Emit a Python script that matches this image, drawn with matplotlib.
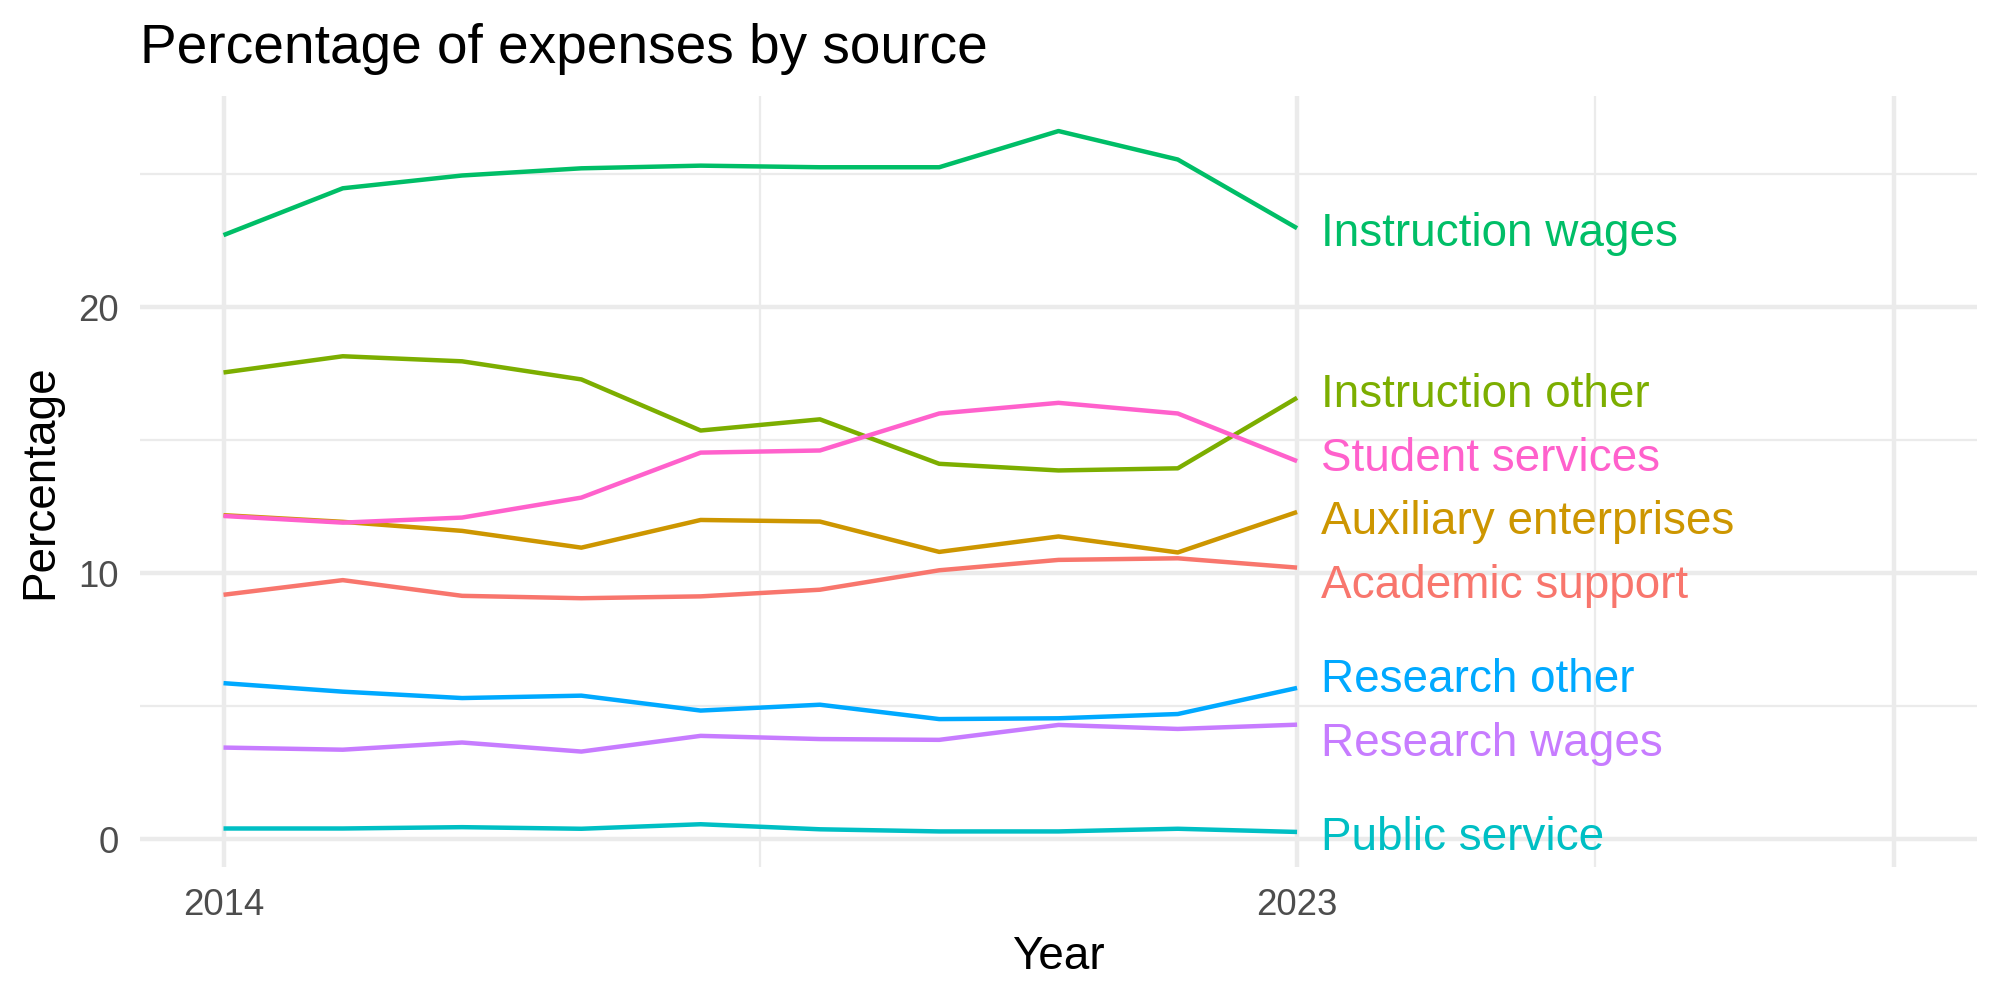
import numpy as np
import matplotlib
matplotlib.use("Agg")
import matplotlib.pyplot as plt

plt.rcParams['font.family'] = ['Liberation Sans', 'DejaVu Sans']

years = list(range(2014, 2024))

categories = ["Academic support", "Auxiliary enterprises", "Instruction other",
              "Instruction wages", "Public service", "Research other",
              "Research wages", "Student services"]

academic_support = [9.19, 9.74, 9.15, 9.06, 9.13, 9.38, 10.11, 10.50, 10.56, 10.21]
auxiliary_enterprises = [12.18, 11.93, 11.59, 10.96, 12.00, 11.94, 10.80, 11.38, 10.78, 12.30]
instruction_other = [17.54, 18.15, 17.96, 17.28, 15.36, 15.78, 14.11, 13.86, 13.94, 16.59]
instruction_wages = [22.70, 24.46, 24.94, 25.21, 25.31, 25.25, 25.25, 26.61, 25.54, 22.96]
public_service = [0.41, 0.41, 0.46, 0.40, 0.57, 0.38, 0.30, 0.30, 0.40, 0.28]
research_other = [5.87, 5.55, 5.31, 5.40, 4.84, 5.06, 4.52, 4.55, 4.71, 5.69]
research_wages = [3.45, 3.37, 3.64, 3.30, 3.89, 3.77, 3.74, 4.30, 4.15, 4.31]
student_services = [12.15, 11.90, 12.09, 12.84, 14.53, 14.61, 16.00, 16.40, 16.00, 14.21]

series = [academic_support, auxiliary_enterprises, instruction_other,
          instruction_wages, public_service, research_other,
          research_wages, student_services]

# ggplot default hue palette for 8 groups
colors = ["#F8766D", "#CD9600", "#7CAE00", "#00BE67",
          "#00BFC4", "#00A9FF", "#C77CFF", "#FF61CC"]


def spread_labels(targets, gap):
    # push end labels apart (simple cluster based repel)
    targets = np.asarray(targets, dtype=float)
    clusters = [[i] for i in np.argsort(targets)]

    def place(c):
        m = targets[c].mean()
        n = len(c)
        return [m + (k - (n - 1) / 2) * gap for k in range(n)]

    merged = True
    while merged:
        merged = False
        for j in range(len(clusters) - 1):
            lo = place(clusters[j])[-1]
            hi = place(clusters[j + 1])[0]
            if hi - lo < gap - 1e-9:
                clusters[j] = clusters[j] + clusters[j + 1]
                del clusters[j + 1]
                merged = True
                break
    pos = np.zeros(len(targets))
    for c in clusters:
        for i, p in zip(c, place(c)):
            pos[i] = p
    return pos


fig = plt.figure(figsize=(20 / 3, 10 / 3), dpi=300)
ax = fig.add_axes([0.070, 0.133, 0.9185, 0.771])

grid_col = "#EBEBEB"
for x in [2018.5, 2025.5]:
    ax.axvline(x, color=grid_col, lw=0.53, zorder=0)
for y in [5, 15, 25]:
    ax.axhline(y, color=grid_col, lw=0.53, zorder=0)
for x in [2014, 2023, 2028]:
    ax.axvline(x, color=grid_col, lw=1.07, zorder=0)
for y in [0, 10, 20]:
    ax.axhline(y, color=grid_col, lw=1.07, zorder=0)

for name, vals, col in zip(categories, series, colors):
    ax.plot(years, vals, color=col, lw=1.07, solid_capstyle='butt', zorder=2)

ends = [s[-1] for s in series]
label_y = spread_labels(ends, 2.4)
for name, y, col in zip(categories, label_y, colors):
    ax.text(2023.2, y - 0.22, name, color=col, fontsize=11, ha='left', va='center')

allv = np.concatenate(series)
lo, hi = allv.min(), allv.max()
ax.set_ylim(lo - 0.05 * (hi - lo), hi + 0.05 * (hi - lo))
ax.set_xlim(2014 - 0.05 * 14, 2028 + 0.05 * 14)

ax.set_xticks([2014, 2023, 2028])
ax.set_xticklabels(["2014", "2023", ""])
ax.set_yticks([0, 10, 20])
ax.tick_params(axis='both', length=0, labelsize=8.8, labelcolor="#4D4D4D", pad=5)
for s in ax.spines.values():
    s.set_visible(False)

ax.set_xlabel("Year", fontsize=11, labelpad=3)
ax.set_ylabel("Percentage", fontsize=11, labelpad=4)
fig.text(0.070, 0.951, "Percentage of expenses by source", fontsize=13.2,
         ha='left', va='center')

fig.savefig("out.png", dpi=300, facecolor="white")
